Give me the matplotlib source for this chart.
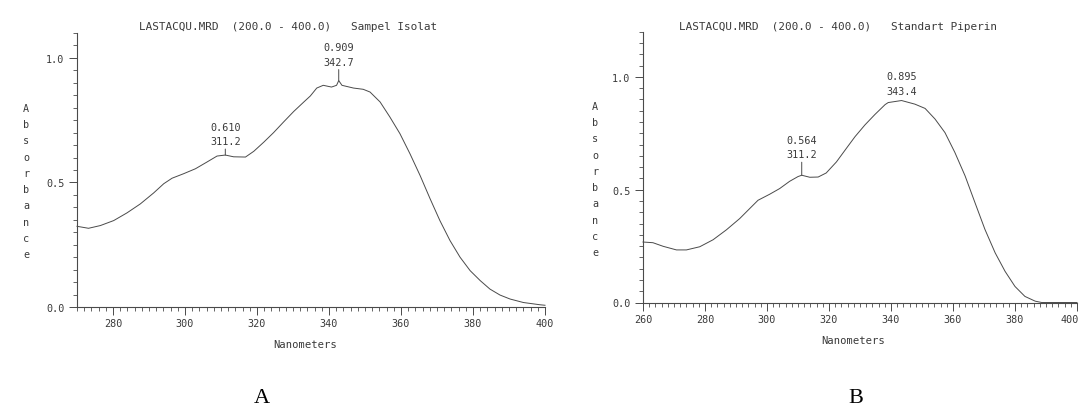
import numpy as np
import matplotlib
matplotlib.use("Agg")
import matplotlib.pyplot as plt
import matplotlib.transforms as mtrans

# ---------------- data ----------------
wl_a = [270.0, 273.2, 276.5, 280.2, 283.9, 287.6, 291.3, 294.1, 296.4, 299.6,
        302.9, 306.1, 308.9, 311.2, 313.5, 316.8, 319.1, 321.9, 324.6, 327.4,
        330.2, 333.0, 334.8, 336.6, 338.4, 340.7, 342.1, 342.7, 343.6, 346.8,
        349.5, 351.4, 354.2, 356.9, 359.7, 362.5, 365.3, 368.1, 370.8, 373.6,
        376.4, 379.2, 382.0, 384.7, 387.5, 390.3, 394.0, 398.6, 400.0]
abs_a = [0.324, 0.316, 0.327, 0.347, 0.378, 0.414, 0.458, 0.495, 0.517, 0.535,
         0.555, 0.582, 0.606, 0.610, 0.603, 0.602, 0.625, 0.662, 0.700, 0.743,
         0.785, 0.823, 0.847, 0.879, 0.890, 0.883, 0.890, 0.909, 0.890, 0.879,
         0.874, 0.863, 0.823, 0.763, 0.696, 0.615, 0.528, 0.434, 0.347, 0.267,
         0.200, 0.146, 0.106, 0.072, 0.048, 0.032, 0.018, 0.009, 0.007]

wl_b = [260.0, 263.2, 266.5, 270.8, 274.0, 278.3, 282.6, 286.9, 291.2, 294.4,
        297.1, 300.9, 304.1, 307.3, 310.0, 311.2, 313.8, 316.5, 319.1, 322.4,
        325.6, 328.4, 331.6, 334.8, 338.1, 339.1, 343.4, 347.7, 351.0, 354.2,
        357.4, 360.6, 363.9, 367.1, 370.3, 373.6, 376.8, 380.0, 383.2, 386.5,
        388.6, 392.0, 400.0]
abs_b = [0.268, 0.265, 0.249, 0.233, 0.233, 0.247, 0.278, 0.322, 0.372, 0.416,
         0.453, 0.480, 0.505, 0.537, 0.558, 0.564, 0.555, 0.556, 0.574, 0.623,
         0.683, 0.735, 0.787, 0.833, 0.877, 0.886, 0.895, 0.879, 0.860, 0.813,
         0.753, 0.665, 0.561, 0.442, 0.324, 0.220, 0.138, 0.071, 0.027, 0.006,
         0.0, 0.0, 0.0]

peaks_a_x = [311.2, 342.7]
peaks_a_y = [0.610, 0.909]
peaks_b_x = [311.2, 343.4]
peaks_b_y = [0.564, 0.895]

title_a = "LASTACQU.MRD  (200.0 - 400.0)   Sampel Isolat"
title_b = "LASTACQU.MRD  (200.0 - 400.0)   Standart Piperin"
xlabel = "Nanometers"
ylabel = "Absorbance"
xticks_a = [280, 300, 320, 340, 360, 380, 400]
xticks_b = [260, 280, 300, 320, 340, 360, 380, 400]
yticks = [0.0, 0.5, 1.0]
panel_labels = ["A", "B"]

# ---------------- style ----------------
W, H = 1081, 410
DPI = 100
MONO = "DejaVu Sans Mono"
LC = "#4a4a4a"
TC = "#3a3a3a"
FS = 7

fig = plt.figure(figsize=(W / DPI, H / DPI), dpi=DPI)
fig.patch.set_facecolor("white")


def px(x, y):
    return x / W, 1 - y / H


def make_panel(rect, wl, ab, xlim, ylim, xticks, title, title_xy,
               px_, py_, tick_px, text_px, ylab_x, ylab_y, xlab_xy):
    ax = fig.add_axes(rect)
    ax.plot(wl, ab, color=LC, lw=0.7, clip_on=False, zorder=3)
    ax.set_xlim(*xlim)
    ax.set_ylim(*ylim)
    ax.spines["top"].set_visible(False)
    ax.spines["right"].set_visible(False)
    for s in ("left", "bottom"):
        ax.spines[s].set_color(LC)
        ax.spines[s].set_linewidth(0.8)
    ax.set_xticks(xticks)
    ax.set_xticklabels([str(t) for t in xticks])
    ax.set_xticks(np.arange(xlim[0], xlim[1] + 0.1, 2), minor=True)
    ax.set_yticks(yticks)
    ax.set_yticklabels([f"{t:.1f}" for t in yticks])
    ax.set_yticks(np.arange(0, ylim[1] + 0.001, 0.05), minor=True)
    ax.tick_params(which="major", direction="out", length=6, width=0.7,
                   color=LC, labelsize=FS + 0.3, labelcolor=TC, pad=3)
    ax.tick_params(which="minor", direction="out", length=3, width=0.6,
                   color=LC)
    ax.tick_params(axis="x", which="major", pad=2)
    for lab in ax.get_xticklabels() + ax.get_yticklabels():
        lab.set_family(MONO)
    ax.set_facecolor("none")
    # peak markers
    for x, y, tl, tp in zip(px_, py_, tick_px, text_px):
        if tl > 0:
            ax.annotate("", xy=(x, y), xytext=(0, tl),
                        textcoords="offset pixels",
                        arrowprops=dict(arrowstyle="-", lw=0.7, color=LC,
                                        shrinkA=0, shrinkB=0))
        ax.annotate(f"{y:.3f}\n{x:.1f}", xy=(x, y), xytext=(0, tp),
                    textcoords="offset pixels", ha="center", va="bottom",
                    fontsize=FS + 0.3, family=MONO, color=TC, linespacing=1.55)
    fig.text(*px(*title_xy), title, ha="center", va="center",
             fontsize=FS + 0.9, family=MONO, color=TC)
    fig.text(*px(ylab_x, ylab_y), "\n".join(ylabel), ha="center",
             va="center", fontsize=FS + 0.3, family=MONO, color=TC,
             linespacing=1.78)
    fig.text(*px(*xlab_xy), xlabel, ha="center", va="center",
             fontsize=FS + 0.6, family=MONO, color=TC)
    return ax


# Panel A
make_panel([77 / W, 1 - 308 / H, (545 - 77) / W, (308 - 34) / H],
           wl_a, abs_a, (270, 400), (0, 1.1), xticks_a, title_a, (288, 27),
           peaks_a_x, peaks_a_y, [6, 11], [9, 14],
           26, 182, (305, 345))

# Panel B
axb = make_panel([643 / W, 1 - 303.5 / H, (1077 - 643) / W, (303.5 - 32.7) / H],
                 wl_b, abs_b, (260, 400), (0, 1.2), xticks_b, title_b, (838, 27),
                 peaks_b_x, peaks_b_y, [13, 0], [16, 5],
                 595, 180, (853, 341))
# keep the last tick label of panel B inside the figure
last = axb.get_xticklabels()[-1]
last.set_transform(last.get_transform() +
                   mtrans.ScaledTranslation(-7 / DPI, 0, fig.dpi_scale_trans))

fig.text(*px(262, 399), panel_labels[0], ha="center", va="center",
         fontsize=16, family="Liberation Serif", color="black")
fig.text(*px(856, 399), panel_labels[1], ha="center", va="center",
         fontsize=16, family="Liberation Serif", color="black")

fig.savefig("out.png", dpi=DPI, facecolor="white")
